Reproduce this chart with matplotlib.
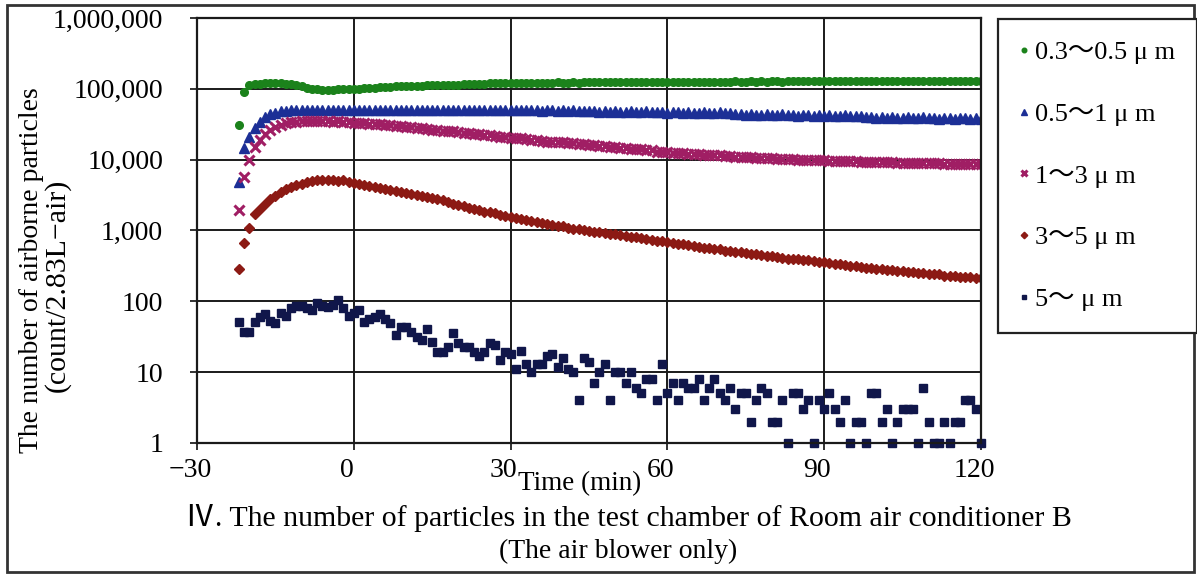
import numpy as np
import matplotlib.pyplot as plt
import matplotlib.transforms as mtransforms
from matplotlib.patches import Rectangle

plt.rcParams['font.family'] = ['Liberation Serif', 'Noto Sans CJK JP']

# sampling time (min), one reading per minute
time_min = np.arange(-22, 121)

# particle counts per size band (count / 2.83 L air)
size_03_05 = [
    31000, 90000, 112000, 116000, 118000, 119000, 120000, 119000, 121000, 118000,
    117000, 114000, 110000, 103000, 100000, 98000, 97000, 97000, 97000, 98000,
    98000, 99000, 100000, 101000, 102000, 103000, 104000, 105000, 106000, 107000,
    108000, 108000, 109000, 110000, 110000, 111000, 112000, 112000, 113000, 113000,
    114000, 115000, 115000, 116000, 117000, 117000, 118000, 118000, 119000, 119000,
    120000, 120000, 121000, 120000, 121000, 122000, 121000, 122000, 122000, 121000,
    122000, 123000, 122000, 122000, 123000, 122000, 123000, 123000, 124000, 123000,
    124000, 123000, 124000, 124000, 123000, 124000, 125000, 124000, 124000, 125000,
    124000, 125000, 125000, 124000, 125000, 126000, 125000, 125000, 126000, 125000,
    126000, 126000, 125000, 126000, 126000, 127000, 126000, 126000, 127000, 126000,
    127000, 126000, 127000, 127000, 126000, 127000, 128000, 127000, 127000, 128000,
    127000, 128000, 127000, 128000, 128000, 127000, 128000, 128000, 129000, 128000,
    128000, 129000, 128000, 129000, 128000, 129000, 129000, 128000, 129000, 130000,
    129000, 129000, 130000, 129000, 130000, 129000, 130000, 130000, 129000, 130000,
    130000, 130000, 131000,
]
size_05_1 = [
    4900, 14700, 21000, 28000, 34000, 40000, 44000, 46000, 48000, 49000,
    50000, 50000, 51000, 51000, 50000, 51000, 51000, 50000, 51000, 50000,
    51000, 50000, 51000, 50000, 51000, 50000, 51000, 51000, 50000, 51000,
    50000, 51000, 50000, 51000, 51000, 50000, 51000, 50000, 51000, 50000,
    51000, 50000, 51000, 50000, 50000, 51000, 50000, 51000, 50000, 50000,
    51000, 50000, 50000, 51000, 50000, 50000, 51000, 50000, 49000, 50000,
    50000, 49000, 50000, 49000, 50000, 49000, 48000, 48000, 48000, 47000,
    48000, 47000, 48000, 47000, 47000, 48000, 47000, 47000, 48000, 47000,
    47000, 47000, 46000, 47000, 47000, 46000, 47000, 46000, 46000, 47000,
    46000, 46000, 47000, 46000, 45000, 44000, 44000, 43000, 44000, 43000,
    43000, 44000, 43000, 43000, 44000, 43000, 43000, 42000, 43000, 43000,
    42000, 43000, 42000, 43000, 42000, 42000, 43000, 42000, 42000, 41000,
    40000, 40000, 39000, 40000, 39000, 40000, 39000, 39000, 40000, 39000,
    39000, 40000, 39000, 39000, 38000, 39000, 39000, 38000, 39000, 39000,
    38000, 39000, 38000,
]
size_1_3 = [
    1950, 5700, 10000, 15000, 19000, 23000, 26000, 29000, 31000, 32500,
    33500, 34000, 35000, 35500, 35500, 35000, 35500, 35000, 34500, 35000,
    34000, 34000, 33000, 33000, 32500, 32000, 32000, 31500, 31000, 31000,
    30000, 29500, 29000, 28500, 28000, 28000, 27000, 26500, 26000, 25500,
    25000, 25000, 24500, 24000, 23500, 23000, 23000, 22500, 22000, 21500,
    21000, 21000, 20500, 20000, 20000, 19500, 19000, 19000, 18500, 18000,
    18000, 17500, 17500, 17000, 17000, 16500, 16500, 16000, 16000, 15500,
    15500, 15000, 15000, 14500, 14500, 14000, 14000, 14000, 13500, 13500,
    13000, 13000, 13000, 12500, 12500, 12500, 12000, 12000, 12000, 11800,
    11800, 11500, 11500, 11300, 11200, 11000, 11000, 10800, 10800, 10600,
    10600, 10500, 10400, 10300, 10300, 10200, 10100, 10000, 10000, 9900,
    9900, 9800, 9800, 9700, 9700, 9600, 9600, 9500, 9500, 9400,
    9400, 9300, 9300, 9300, 9200, 9200, 9100, 9100, 9000, 9000,
    9000, 9000, 8900, 8900, 8900, 8800, 8800, 8800, 8700, 8700,
    8700, 8700, 8800,
]
size_3_5 = [
    290, 660, 1090, 1700, 2000, 2400, 2800, 3100, 3500, 3800,
    4100, 4400, 4600, 4800, 5000, 5100, 5200, 5100, 5200, 5000,
    5100, 4900, 4700, 4500, 4400, 4200, 4100, 4000, 3900, 3700,
    3600, 3500, 3400, 3300, 3200, 3100, 3000, 2900, 2800, 2700,
    2500, 2400, 2300, 2200, 2100, 2000, 1950, 1850, 1800, 1750,
    1650, 1600, 1550, 1500, 1450, 1400, 1350, 1300, 1280, 1250,
    1200, 1150, 1150, 1100, 1050, 1050, 1000, 980, 960, 950,
    930, 900, 890, 870, 840, 820, 800, 790, 760, 740,
    720, 700, 690, 670, 650, 640, 620, 600, 590, 570,
    560, 550, 540, 520, 510, 500, 490, 480, 470, 460,
    450, 440, 430, 420, 410, 400, 400, 390, 380, 380,
    370, 360, 360, 350, 340, 340, 330, 320, 320, 310,
    300, 300, 290, 290, 280, 280, 270, 270, 260, 260,
    250, 250, 240, 240, 240, 230, 230, 230, 220, 220,
    220, 210, 215,
]
size_5_up = [
    51, 37, 37, 51, 60, 66, 53, 49, 68, 62,
    81, 86, 86, 81, 76, 95, 86, 83, 90, 105,
    81, 62, 68, 76, 51, 56, 60, 66, 56, 49,
    33, 43, 43, 37, 31, 28, 41, 27, 19, 19,
    23, 36, 26, 23, 23, 19, 17, 19, 26, 24,
    15, 19, 18, 11, 20, 13, 10, 13, 13, 17,
    18, 12, 16, 11, 10, 4, 16, 14, 7, 10,
    13, 4, 10, 10, 7, 10, 6, 5, 8, 8,
    4, 13, 5, 7, 4, 7, 6, 6, 8, 4,
    6, 8, 5, 4, 6, 3, 5, 5, 2, 4,
    6, 5, 2, 2, 4, 1, 5, 5, 3, 4,
    1, 4, 3, 5, 3, 2, 4, 1, 2, 2,
    1, 5, 5, 2, 3, 1, 2, 3, 3, 3,
    1, 6, 2, 1, 1, 2, 1, 2, 2, 4,
    4, 3, 1,
]

labels = ['0.3〜0.5 μ m', '0.5〜1 μ m', '1〜3 μ m', '3〜5 μ m', '5〜 μ m']
x_ticks = [-30, 0, 30, 60, 90, 120]
x_ticklabels = ['−30', '0', '30', '60', '90', '120']
y_ticks = [1, 10, 100, 1000, 10000, 100000, 1000000]
y_ticklabels = ['1', '10', '100', '1,000', '10,000', '100,000', '1,000,000']

fig, ax = plt.subplots(figsize=(11.97, 5.75), dpi=100)
fig.subplots_adjust(left=0.1646, right=0.8195, top=0.9687, bottom=0.2296)

ax.plot(time_min, size_03_05, ls='none', marker='o', ms=5.5, color='#1b821b', label=labels[0])
ax.plot(time_min, size_05_1, ls='none', marker='^', ms=7, color='#1c2f96', label=labels[1])
ax.plot(time_min, size_1_3, ls='none', marker='x', ms=6.5, mew=2.2, color='#a01e64', label=labels[2])
ax.plot(time_min, size_3_5, ls='none', marker='D', ms=5.5, color='#8c1a14', label=labels[3])
ax.plot(time_min, size_5_up, ls='none', marker='s', ms=5.5, color='#10164a', label=labels[4],
        clip_on=False)

ax.set_yscale('log')
ax.set_ylim(1, 1000000)
ax.set_xlim(-30, 120)
ax.set_xticks(x_ticks)
ax.set_xticklabels(x_ticklabels)
ax.set_yticks(y_ticks)
ax.set_yticklabels(y_ticklabels)
ax.minorticks_off()
ax.tick_params(axis='both', labelsize=20, length=5, width=1.3, color='#222')
ax.tick_params(axis='x', pad=6)
ax.tick_params(axis='y', pad=19.5)
ax.grid(True, color='#1a1a1a', lw=1.4)
ax.set_axisbelow(True)
for sp in ax.spines.values():
    sp.set_linewidth(1.6)
    sp.set_color('#1a1a1a')

# x tick labels sit a little left of their gridlines
shift = mtransforms.ScaledTranslation(-7 / 100, 0, fig.dpi_scale_trans)
for lbl in ax.get_xticklabels():
    lbl.set_transform(lbl.get_transform() + shift)

fig.text(580 / 1197, 1 - 484 / 575, 'Time (min)', ha='center', va='center', fontsize=19.5)
fig.text(628 / 1197, 1 - 518 / 575,
         'Ⅳ. The number of particles in the test chamber of Room air conditioner B',
         ha='center', va='center', fontsize=21.5)
fig.text(618 / 1197, 1 - 551 / 575, '(The air blower only)', ha='center', va='center', fontsize=20)
fig.text(32 / 1197, 1 - 270 / 575, 'The number of airborne particles', rotation=90,
         ha='center', va='center', fontsize=20)
fig.text(57 / 1197, 1 - 285 / 575, '(count/2.83L−air)', rotation=90,
         ha='center', va='center', fontsize=21.5)

leg = fig.legend(loc='upper left', bbox_to_anchor=(998 / 1197, 1 - 19 / 575),
                 fontsize=19, frameon=True, fancybox=False, framealpha=1,
                 edgecolor='#222', handlelength=0.3, handletextpad=0.3,
                 labelspacing=1.45, borderpad=0.82, borderaxespad=0, markerscale=0.6)
leg.get_frame().set_linewidth(1.6)

fig.patches.append(Rectangle((7 / 1197, 3 / 575), 1187 / 1197, 567 / 575,
                             transform=fig.transFigure, fill=False, lw=2, ec='#333'))

fig.savefig('out.png', dpi=100)
